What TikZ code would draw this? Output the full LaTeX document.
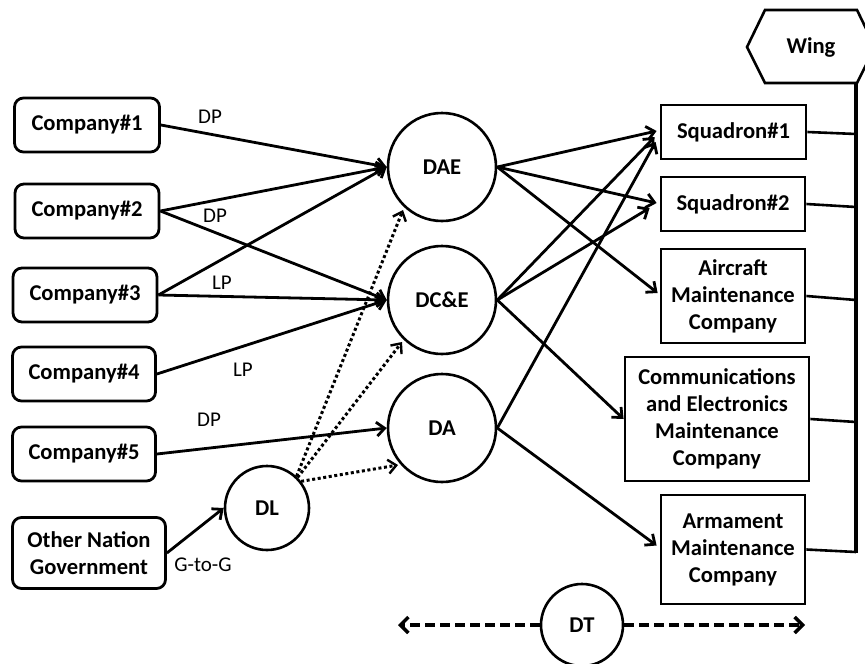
\documentclass[tikz,border=0pt]{standalone}
\usepackage{fontspec}
\setmainfont{Carlito}
\usetikzlibrary{arrows.meta,calc}
\begin{document}
\begin{tikzpicture}[x=1pt,y=-1pt,
  box/.style={draw,line width=2.8pt,inner sep=0pt,align=center,font=\bfseries\fontsize{22.6}{27}\selectfont},
  rbox/.style={box,rounded corners=9pt},
  circ/.style={draw,circle,line width=2.6pt,inner sep=0pt,font=\bfseries\fontsize{22.6}{27}\selectfont},
  lbl/.style={font=\fontsize{21}{24}\selectfont,inner sep=0pt},
  arr/.style={line width=2.8pt,-{Straight Barb[length=8pt,width=14pt]}},
  dotarr/.style={line width=3pt,dash pattern=on 3pt off 2.6pt,-{Straight Barb[length=8pt,width=14pt,line width=2.4pt]}},
  dasharr/.style={line width=3.4pt,dash pattern=on 10pt off 5pt,-{Straight Barb[length=8pt,width=16pt]}},
  link/.style={line width=2.6pt}
]
\useasboundingbox (0,0) rectangle (865,664);
% left boxes
\node[rbox,minimum width=145pt,minimum height=54pt] (c1) at (87,125) {Company\#1};
\node[rbox,minimum width=144pt,minimum height=54pt] (c2) at (87,211) {Company\#2};
\node[rbox,minimum width=144pt,minimum height=54pt] (c3) at (85,295) {Company\#3};
\node[rbox,minimum width=143pt,minimum height=54pt] (c4) at (84,374) {Company\#4};
\node[rbox,minimum width=143pt,minimum height=54pt] (c5) at (84,454) {Company\#5};
\node[rbox,minimum width=153pt,minimum height=71pt] (ong) at (89,553) {Other Nation\\Government};
% circles
\node[circ,minimum size=84pt] (dl) at (267,508) {DL};
\node[circ,minimum size=108pt] (dae) at (442,167) {DAE};
\node[circ,minimum size=108pt] (dce) at (442,300) {DC\&E};
\node[circ,minimum size=108pt] (da) at (442,428) {DA};
\node[circ,minimum size=82pt] (dt) at (582,625) {DT};
% right boxes
\node[box,minimum width=145pt,minimum height=54pt] (sq1) at (733.5,132) {Squadron\#1};
\node[box,minimum width=144pt,minimum height=54pt] (sq2) at (733,204) {Squadron\#2};
\node[box,minimum width=144pt,minimum height=94pt] (amc) at (733,296) {Aircraft\\Maintenance\\Company};
\node[box,minimum width=184pt,minimum height=124pt] (cemc) at (717,419) {Communications\\and Electronics\\Maintenance\\Company};
\node[box,minimum width=144pt,minimum height=109pt] (arm) at (733,549.5) {Armament\\Maintenance\\Company};
% wing
\node[font=\bfseries\fontsize{22.6}{27}\selectfont,inner sep=0pt] (wing) at (811,47) {Wing};
\draw[line width=2.6pt,line join=miter] (747,47) -- (765,10) -- (857,10) -- (875,47) -- (857,83) -- (765,83) -- cycle;
\coordinate (wt) at (856,83);
\coordinate (j1) at (856,134);
\coordinate (j2) at (856,207);
\coordinate (j3) at (856,300);
\coordinate (j4) at (856,422);
\coordinate (j5) at (856,552);
\draw[line width=3.8pt] (wt) -- ([yshift=-1.4pt]j5);
\draw[link] (sq1.east) -- (j1);
\draw[link] (sq2.east) -- (j2);
\draw[link] (amc.east) -- (j3);
\draw[link] (cemc.east) -- (j4);
\draw[link] (arm.east) -- (j5);
% inputs
\draw[arr] (c1.east) -- (dae.west);
\draw[arr] (c2.east) -- (dae.west);
\draw[arr] (c2.east) -- (dce.west);
\draw[arr] (c3.east) -- (dae.west);
\draw[arr] (c3.east) -- (dce.west);
\draw[arr] (c4.east) -- (dce.west);
\draw[arr] (c5.east) -- (da.west);
\draw[arr] (ong.east) -- (dl.west);
\node[lbl] (l1) at (210,117) {DP};
\node[lbl] (l2) at (215,216) {DP};
\node[lbl] (l3) at (222,283) {LP};
\node[lbl] (l4) at (243,370) {LP};
\node[lbl] (l5) at (209,420) {DP};
\node[lbl] (l6) at (203,565) {G-to-G};
% DL dotted
\draw[dotarr] (dl.47) -- ($(dae.center)+(-39,43)$);
\draw[dotarr] (dl.45) -- ($(dce.center)+(-40,42)$);
\draw[dotarr] (dl.38) -- ($(da.center)+(-44,37)$);
% outputs
\draw[arr] (dae.east) -- ($(sq1.west)+(-3,-1)$);
\draw[arr] (dae.east) -- ($(sq2.west)+(-3,-1)$);
\draw[arr] (dae.east) -- ($(amc.west)+(-2,-3)$);
\draw[arr] (dce.east) -- ($(sq1.west)+(-5,5)$);
\draw[arr] (dce.east) -- ($(sq2.west)+(-10,4)$);
\draw[arr] (dce.east) -- (cemc.west);
\draw[arr] (da.east) -- ($(sq1.west)+(-4,10)$);
\draw[arr] (da.east) -- ($(arm.west)+(-3,-4)$);
% DT
\coordinate (dtl) at (398,625);
\coordinate (dtr) at (805,625);
\draw[dasharr] (dt.west) -- (dtl);
\draw[dasharr] (dt.east) -- (dtr);
\end{tikzpicture}
\end{document}
